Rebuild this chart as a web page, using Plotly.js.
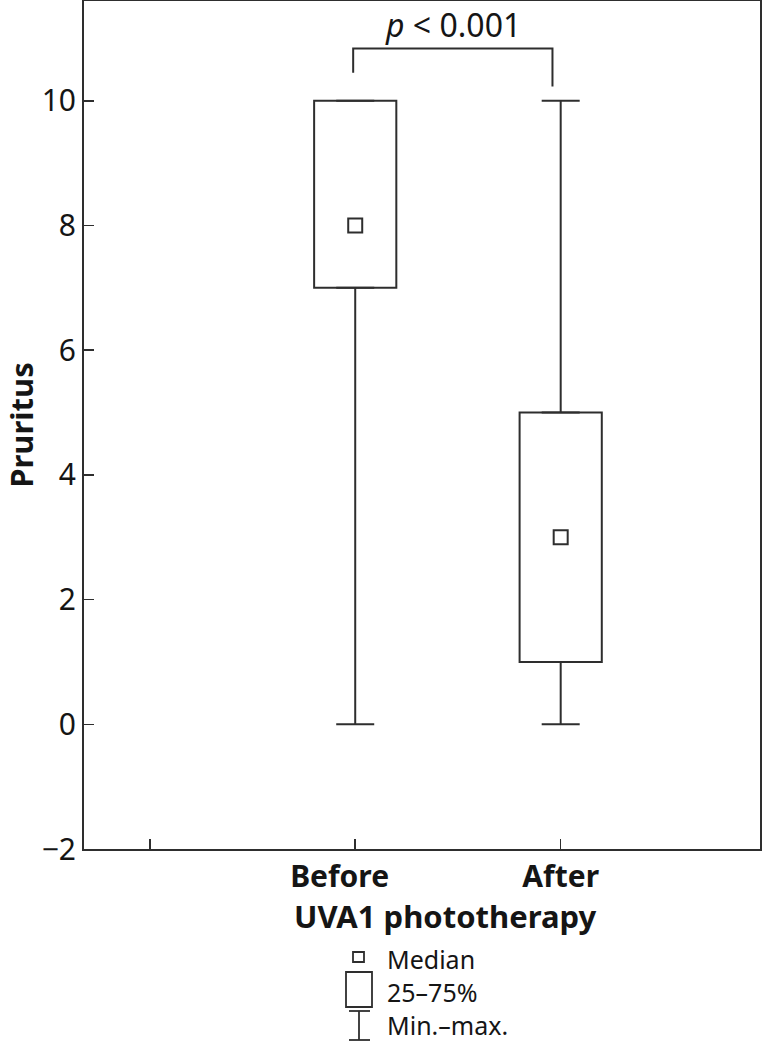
<!DOCTYPE html>
<html>
<head>
<meta charset="utf-8">
<script src="https://cdn.plot.ly/plotly-3.0.1.min.js"></script>
<style>html,body{margin:0;padding:0;background:#fff;}#chart{width:762px;height:1043px;}</style>
</head>
<body>
<div id="chart"></div>
<script>
// ---- data ----
const categories = ['Before', 'After'];
const xPositions = [1, 2];
const minVals = [0, 0];
const q1Vals = [7, 1];
const medianVals = [8, 3];
const q3Vals = [10, 5];
const maxVals = [10, 10];
const yTickVals = [-2, 0, 2, 4, 6, 8, 10];
const pText = '<i>p</i> < 0.001';
const legendLabels = ['Median', '25\u201375%', 'Min.\u2013max.'];

// ---- style ----
const LC = '#2e2e2e';
const TC = '#151515';
const FONT = 'Noto Sans, Open Sans, DejaVu Sans, sans-serif';
const W = 762, H = 1043;
const M = {l: 84, r: 2, t: 1, b: 194};
const PW = W - M.l - M.r, PH = H - M.t - M.b;
const px = x => (x - M.l) / PW;          // pixel -> paper x
const py = y => (H - M.b - y) / PH;      // pixel -> paper y

const traces = [
  {
    type: 'bar', x: xPositions, base: q1Vals,
    y: q3Vals.map((v, i) => v - q1Vals[i]),
    width: 0.4,
    marker: {color: '#ffffff', line: {color: LC, width: 2}},
    hoverinfo: 'skip', showlegend: false
  },
  { // lower whiskers
    type: 'scatter', mode: 'markers', x: xPositions, y: q1Vals,
    marker: {size: 1, color: 'rgba(0,0,0,0)'},
    error_y: {type: 'data', symmetric: false, array: q1Vals.map(() => 0),
      arrayminus: q1Vals.map((v, i) => v - minVals[i]),
      color: LC, thickness: 2, width: 19},
    hoverinfo: 'skip', showlegend: false
  },
  { // upper whiskers
    type: 'scatter', mode: 'markers', x: xPositions, y: q3Vals,
    marker: {size: 1, color: 'rgba(0,0,0,0)'},
    error_y: {type: 'data', symmetric: false,
      array: maxVals.map((v, i) => v - q3Vals[i]),
      arrayminus: q3Vals.map(() => 0),
      color: LC, thickness: 2, width: 19},
    hoverinfo: 'skip', showlegend: false
  },
  { // medians
    type: 'scatter', mode: 'markers', x: xPositions, y: medianVals,
    marker: {symbol: 'square-open', size: 14, color: LC, line: {width: 2, color: LC}},
    hoverinfo: 'skip', showlegend: false
  }
];

const shapes = [
  // significance bracket
  {type: 'path', xref: 'x', yref: 'y',
   path: 'M 0.99 10.45 L 0.99 10.84 L 1.96 10.84 L 1.96 10.23',
   line: {color: LC, width: 2}},
  // legend: median square
  {type: 'rect', xref: 'paper', yref: 'paper', x0: px(353), x1: px(364), y0: py(962), y1: py(952),
   line: {color: LC, width: 1.8}, fillcolor: 'rgba(0,0,0,0)'},
  // legend: box
  {type: 'rect', xref: 'paper', yref: 'paper', x0: px(346), x1: px(372), y0: py(1007), y1: py(972),
   line: {color: LC, width: 1.8}, fillcolor: 'rgba(0,0,0,0)'},
  // legend: whisker
  {type: 'line', xref: 'paper', yref: 'paper', x0: px(359), x1: px(359), y0: py(1040), y1: py(1011),
   line: {color: LC, width: 1.8}},
  {type: 'line', xref: 'paper', yref: 'paper', x0: px(349), x1: px(370), y0: py(1011), y1: py(1011),
   line: {color: LC, width: 1.8}},
  {type: 'line', xref: 'paper', yref: 'paper', x0: px(349), x1: px(370), y0: py(1040), y1: py(1040),
   line: {color: LC, width: 1.8}}
];

const legFont = {family: FONT, size: 25, color: TC};
const annotations = [
  {xref: 'x', yref: 'y', x: 1.476, y: 11.22, text: pText, showarrow: false,
   font: {family: FONT, size: 32, color: TC}, xanchor: 'center', yanchor: 'middle'},
  {xref: 'paper', yref: 'paper', x: px(445), y: py(916), text: '<b>UVA1 phototherapy</b>',
   showarrow: false, font: {family: FONT, size: 31, color: TC}, xanchor: 'center', yanchor: 'middle'},
  {xref: 'paper', yref: 'paper', x: px(386), y: py(959), text: legendLabels[0], showarrow: false,
   font: legFont, xanchor: 'left', yanchor: 'middle', borderpad: 0},
  {xref: 'paper', yref: 'paper', x: px(386), y: py(992), text: legendLabels[1], showarrow: false,
   font: legFont, xanchor: 'left', yanchor: 'middle', borderpad: 0},
  {xref: 'paper', yref: 'paper', x: px(386), y: py(1025), text: legendLabels[2], showarrow: false,
   font: legFont, xanchor: 'left', yanchor: 'middle', borderpad: 0}
];

const layout = {
  width: W, height: H,
  margin: M,
  paper_bgcolor: '#ffffff', plot_bgcolor: '#ffffff',
  showlegend: false,
  font: {family: FONT, color: TC},
  xaxis: {
    range: [-0.32, 2.97], tickvals: [0].concat(xPositions),
    ticktext: ['', '<b>' + categories[0] + '</b>\u00a0\u00a0\u00a0\u00a0', '<b>' + categories[1] + '</b>'],
    ticks: 'inside', ticklen: 10, tickwidth: 1.5, tickcolor: LC,
    showline: true, linecolor: LC, linewidth: 2, mirror: true,
    showgrid: false, zeroline: false,
    tickfont: {family: FONT, size: 30, color: TC}
  },
  yaxis: {
    range: [-2, 11.6], tickvals: yTickVals,
    ticks: 'inside', ticklen: 10, tickwidth: 1.5, tickcolor: LC,
    showline: true, linecolor: LC, linewidth: 2, mirror: true,
    showgrid: false, zeroline: false,
    tickfont: {family: FONT, size: 30, color: TC},
    title: {text: '<b>Pruritus</b>', font: {family: FONT, size: 31, color: TC}, standoff: 6}
  },
  shapes: shapes,
  annotations: annotations,
  bargap: 0
};

Plotly.newPlot('chart', traces, layout, {displayModeBar: false, staticPlot: true});
</script>
</body>
</html>
